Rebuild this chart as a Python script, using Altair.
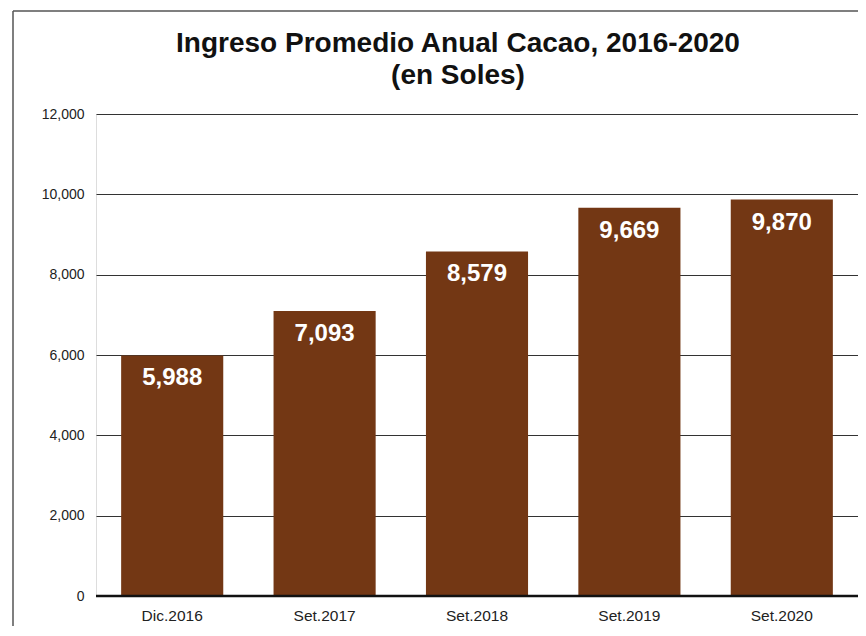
import altair as alt
import pandas as pd

periods = ["Dic.2016", "Set.2017", "Set.2018", "Set.2019", "Set.2020"]
ingreso = [5988, 7093, 8579, 9669, 9870]
labels = ["5,988", "7,093", "8,579", "9,669", "9,870"]
title_lines = ["Ingreso Promedio Anual Cacao, 2016-2020", "(en Soles)"]

df = pd.DataFrame({"periodo": periods, "ingreso": ingreso, "label": labels})

FONT = "Liberation Sans"
BAR = "#733714"
W, H = 762, 482

x = alt.X("periodo:N", sort=periods, title=None,
          scale=alt.Scale(paddingInner=0.33, paddingOuter=0.165),
          axis=alt.Axis(labelAngle=0, labelFont=FONT, labelFontSize=15.5,
                        labelColor="#222", ticks=False, domain=False,
                        labelPadding=12))
y = alt.Y("ingreso:Q", title=None,
          scale=alt.Scale(domain=[0, 12000]),
          axis=alt.Axis(values=[0, 2000, 4000, 6000, 8000, 10000, 12000],
                        format=",d", labelFont=FONT, labelFontSize=14,
                        labelColor="#222", ticks=False, domain=False,
                        labelPadding=12, gridColor="#333", gridWidth=1))

base = alt.Chart(df)

bars = base.mark_bar(color=BAR).encode(x=x, y=y)

text = base.mark_text(color="white", font=FONT, fontSize=24, fontWeight="bold",
                      baseline="middle", dy=23).encode(
    x=alt.X("periodo:N", sort=periods), y="ingreso:Q", text="label:N")

one = pd.DataFrame({"v": [0]})
zero = alt.Chart(one).mark_rule(color="#111", strokeWidth=2.5).encode(
    y="v:Q", x=alt.value(0), x2=alt.value(W))

frame_left = alt.Chart(one).mark_rule(color="#555", strokeWidth=1.5).encode(
    x=alt.value(-83), y=alt.value(-103), y2=alt.value(540))
frame_top = alt.Chart(one).mark_rule(color="#555", strokeWidth=1.5).encode(
    x=alt.value(-83), x2=alt.value(W + 10), y=alt.value(-103))

t1 = alt.Chart(pd.DataFrame({"t": [title_lines[0]]})).mark_text(
    font=FONT, fontSize=28, fontWeight="bold", color="#111", baseline="middle").encode(
    x=alt.value(362), y=alt.value(-70), text="t:N")
t2 = alt.Chart(pd.DataFrame({"t": [title_lines[1]]})).mark_text(
    font=FONT, fontSize=28, fontWeight="bold", color="#111", baseline="middle").encode(
    x=alt.value(362), y=alt.value(-38), text="t:N")

chart = alt.layer(bars, text, zero, frame_left, frame_top, t1, t2).properties(
    width=W, height=H,
    autosize=alt.AutoSizeParams(type="none"),
    padding={"left": 88, "top": 106, "right": 0, "bottom": 30},
).configure_view(stroke=None).configure(background="white")

chart.save("out.html", embed_options={"renderer": "svg", "actions": False})
